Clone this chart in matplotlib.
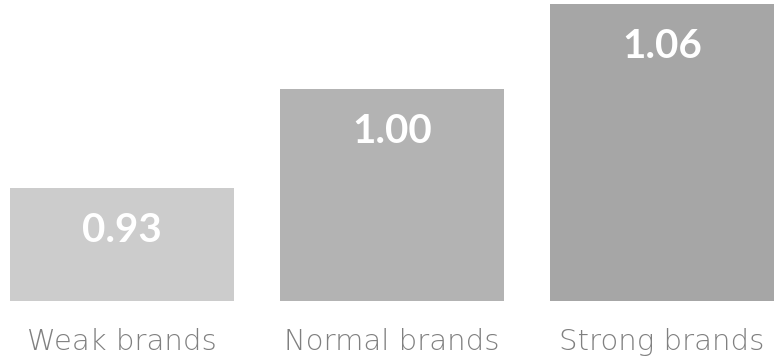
import matplotlib
matplotlib.use("Agg")
import matplotlib.pyplot as plt

categories = ["Weak brands", "Normal brands", "Strong brands"]
values = [0.93, 1.00, 1.06]
colors = ["#cccccc", "#b3b3b3", "#a6a6a6"]

fig = plt.figure(figsize=(7.78, 3.63), dpi=100)
ax = fig.add_axes([0, 0.172, 1, 0.828])

x = range(len(categories))
bars = ax.bar(x, values, width=0.83, color=colors, bottom=0)
ax.set_xlim(-0.452, 2.43)
ax.set_ylim(0.8504, 1.063)

# value labels inside the bars, near the top
for xi, v in zip(x, values):
    ax.text(xi, v - 0.030, f"{v:.2f}", ha="center", va="center",
            color="white", fontsize=29, fontweight="bold", family="Lato")

ax.set_xticks(list(x))
ax.set_xticklabels(categories, fontsize=21, color="#808080",
                   family="DejaVu Sans", fontweight="light")
ax.tick_params(axis="x", length=0, pad=20)
ax.set_yticks([])
for s in ax.spines.values():
    s.set_visible(False)

fig.savefig("out.png", dpi=100)
